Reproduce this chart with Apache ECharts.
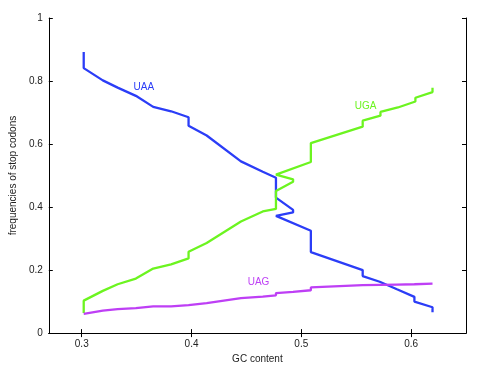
<!DOCTYPE html>
<html>
<head>
<meta charset="utf-8">
<script src="https://cdn.jsdelivr.net/npm/echarts@6/dist/echarts.min.js"></script>
<style>
  html, body { margin: 0; padding: 0; background: #fff; }
  #main { width: 491px; height: 369px; }
</style>
</head>
<body>
<div id="main"></div>
<script>
// GC content (x) and frequencies (y) for each stop codon
var uaaX = [0.3018, 0.3018, 0.3192, 0.3327, 0.3493, 0.3651, 0.3814, 0.3973, 0.3973, 0.4138, 0.445, 0.4649, 0.4769, 0.4769, 0.4925, 0.4925, 0.4769, 0.5087, 0.5087, 0.5559, 0.5559, 0.5714, 0.5871, 0.603, 0.603, 0.6195, 0.6195];
var uaaY = [0.892, 0.841, 0.802, 0.779, 0.753, 0.718, 0.704, 0.685, 0.658, 0.627, 0.545, 0.512, 0.493, 0.430, 0.391, 0.383, 0.372, 0.325, 0.257, 0.200, 0.181, 0.163, 0.139, 0.115, 0.100, 0.082, 0.066];

var ugaX = [0.3018, 0.3018, 0.3192, 0.3327, 0.3493, 0.3651, 0.3814, 0.3973, 0.3973, 0.4138, 0.445, 0.4649, 0.4769, 0.4769, 0.4925, 0.4925, 0.4769, 0.5087, 0.5087, 0.5559, 0.5559, 0.5721, 0.5721, 0.588, 0.6039, 0.6039, 0.6195, 0.6195];
var ugaY = [0.064, 0.103, 0.134, 0.155, 0.173, 0.205, 0.218, 0.237, 0.258, 0.286, 0.354, 0.386, 0.394, 0.451, 0.480, 0.488, 0.503, 0.543, 0.603, 0.655, 0.674, 0.690, 0.702, 0.716, 0.735, 0.747, 0.765, 0.779];

var uagX = [0.3018, 0.3192, 0.3327, 0.3493, 0.3651, 0.3814, 0.3973, 0.3973, 0.4138, 0.445, 0.4649, 0.4769, 0.4769, 0.4925, 0.5087, 0.5087, 0.5559, 0.5714, 0.5871, 0.603, 0.6195];
var uagY = [0.061, 0.071, 0.076, 0.079, 0.085, 0.085, 0.089, 0.092, 0.095, 0.111, 0.116, 0.120, 0.127, 0.131, 0.136, 0.145, 0.152, 0.153, 0.154, 0.155, 0.157];

var xTicks = [0.3, 0.4, 0.5, 0.6];

// label positions (data coords) for the curve names
var names = ['UAA', 'UGA', 'UAG'];
var nameX = [0.3565, 0.5585, 0.461];
var nameY = [0.779, 0.719, 0.161];

function pairs(xs, ys) {
    var out = [];
    for (var i = 0; i < xs.length; i++) {
        out.push([xs[i], ys[i]]);
    }
    return out;
}

var myChart = echarts.init(document.getElementById('main'));

var font = 'Liberation Sans, Arial, sans-serif';
var colors = ['#2b3df7', '#6cf420', '#be3ff5'];
var seriesData = [pairs(uaaX, uaaY), pairs(ugaX, ugaY), pairs(uagX, uagY)];

var series = [];
for (var k = 0; k < 3; k++) {
    series.push({
        name: names[k],
        type: 'line',
        data: seriesData[k],
        symbol: 'none',
        smooth: false,
        lineStyle: { color: colors[k], width: 2.3 },
        markPoint: {
            symbol: 'circle',
            symbolSize: 0,
            data: [{ coord: [nameX[k], nameY[k]] }],
            label: {
                show: true,
                position: 'inside',
                formatter: names[k],
                color: colors[k],
                fontSize: 10,
                fontFamily: font
            }
        }
    });
}

var tickStyle = { show: true, inside: true, length: 4, lineStyle: { color: '#000' } };

option = {
    animation: false,
    grid: { left: 44, right: 25, top: 18, bottom: 34 },
    xAxis: [
        {
            type: 'value',
            min: 0.27,
            max: 0.65,
            name: 'GC content',
            nameLocation: 'middle',
            nameGap: 17,
            nameTextStyle: { color: '#222', fontSize: 10, fontFamily: font },
            axisLine: { lineStyle: { color: '#000', width: 1 } },
            axisTick: { show: true, inside: true, length: 4, customValues: xTicks, lineStyle: { color: '#000' } },
            axisLabel: { customValues: xTicks, color: '#222', fontSize: 10, fontFamily: font, margin: 6 },
            splitLine: { show: false }
        },
        {
            type: 'value',
            position: 'top',
            min: 0.27,
            max: 0.65,
            axisLine: { show: true, lineStyle: { color: '#000', width: 1 } },
            axisTick: { show: true, inside: true, length: 4, customValues: xTicks, lineStyle: { color: '#000' } },
            axisLabel: { show: false },
            splitLine: { show: false }
        }
    ],
    yAxis: [
        {
            type: 'value',
            min: 0,
            max: 1,
            interval: 0.2,
            name: 'frequencies of stop codons',
            nameLocation: 'middle',
            nameGap: 27,
            nameTextStyle: { color: '#222', fontSize: 10, fontFamily: font },
            axisLine: { show: true, lineStyle: { color: '#000', width: 1 } },
            axisTick: tickStyle,
            axisLabel: { color: '#222', fontSize: 10, fontFamily: font, margin: 6 },
            splitLine: { show: false }
        },
        {
            type: 'value',
            position: 'right',
            min: 0,
            max: 1,
            interval: 0.2,
            axisLine: { show: true, lineStyle: { color: '#000', width: 1 } },
            axisTick: tickStyle,
            axisLabel: { show: false },
            splitLine: { show: false }
        }
    ],
    series: series
};

myChart.setOption(option);
</script>
</body>
</html>
